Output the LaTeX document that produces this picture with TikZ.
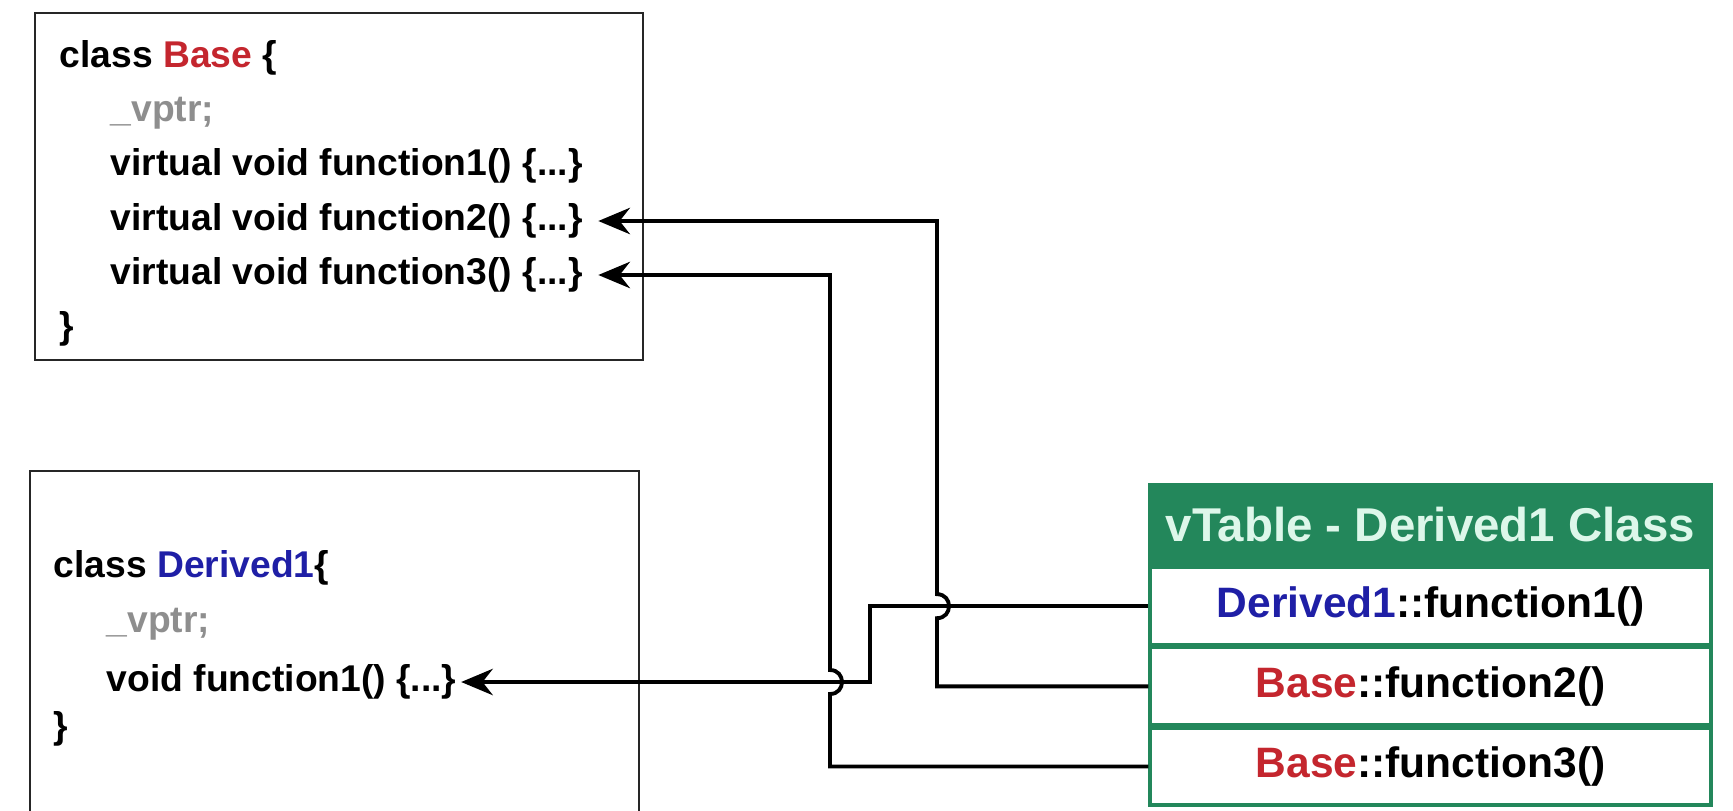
\documentclass[tikz,border=0pt]{standalone}
\usepackage{fontspec}
\setmainfont{Liberation Sans}
\usetikzlibrary{arrows.meta,positioning,calc}
\definecolor{cred}{HTML}{C4262E}
\definecolor{cblue}{HTML}{1F1FA6}
\definecolor{cgray}{HTML}{8E8E8E}
\definecolor{cgreen}{HTML}{23875B}
\definecolor{chead}{HTML}{DDF7EA}
\tikzset{
  clsbox/.style={rectangle, draw=black!85, line width=0.6pt},
  srcline/.style={anchor=west, inner sep=0pt, text height=7.6pt, text depth=2.1pt,
    font=\fontsize{10.6}{12}\selectfont\bfseries},
  vhead/.style={rectangle, draw=cgreen, fill=cgreen, line width=0.9pt, text=chead,
    minimum width=56.1mm, minimum height=8mm, font=\fontsize{13.5}{15}\selectfont\bfseries},
  vrow/.style={rectangle, draw=cgreen, fill=white, line width=0.9pt,
    minimum width=56.1mm, minimum height=7.7mm, font=\fontsize{12.1}{14}\selectfont\bfseries},
  arr/.style={-{Stealth[length=9pt,width=7.5pt]}, line width=1.1pt},
}

\begin{document}
\begin{tikzpicture}[x=0.1mm, y=-0.1mm]
  \clip (0,0) rectangle (1733,810);
  \node[clsbox, minimum width=60.8mm, minimum height=34.7mm] (base) at (339,186.5) {};
  \node[clsbox, anchor=north, minimum width=60.9mm, minimum height=40mm] (derived) at (334.5,470) {};

  \node[srcline] (bhead) at (59,58) {class \textcolor{cred}{Base} \{};
  \node[srcline, text=cgray] (bvptr) at (110,112) {\_vptr;};
  \node[srcline] (bf1) at (110,166) {virtual void function1() \{...\}};
  \node[srcline] (bf2) at (110,221) {virtual void function2() \{...\}};
  \node[srcline] (bf3) at (110,275) {virtual void function3() \{...\}};
  \node[srcline] (bend) at (59,329) {\}};

  \node[srcline] (dhead) at (53,568) {class \textcolor{cblue}{Derived1}\{};
  \node[srcline, text=cgray] (dvptr) at (106,623) {\_vptr;};
  \node[srcline] (df1) at (106,682) {void function1() \{...\}};
  \node[srcline] (dend) at (53,729) {\}};

  \node[vhead] (vtab) at (1430.5,524.5) {vTable - Derived1 Class};
  \node[vrow, below=0pt of vtab] (vf1) {\textcolor{cblue}{Derived1}::function1()};
  \node[vrow, below=0pt of vf1] (vf2) {\textcolor{cred}{Base}::function2()};
  \node[vrow, below=0pt of vf2] (vf3) {\textcolor{cred}{Base}::function3()};

  \coordinate (xone) at (870,0);
  \coordinate (xtwo) at (937,0);
  \coordinate (xthree) at (830,0);

  \draw[arr] (vf2.west) -| ($(vf1.west -| xtwo)+(0,12)$)
    .. controls +(16,0) and +(16,0) .. ($(vf1.west -| xtwo)+(0,-12)$) |- ([xshift=1.5mm]bf2.east);
  \draw[arr] (vf3.west) -| ($(df1.east -| xthree)+(0,12)$)
    .. controls +(16,0) and +(16,0) .. ($(df1.east -| xthree)+(0,-12)$) |- ([xshift=1.5mm]bf3.east);
  \draw[arr] (vf1.west) -| (xone |- df1.east) -- ([xshift=0.4mm]df1.east);
\end{tikzpicture}
\end{document}
